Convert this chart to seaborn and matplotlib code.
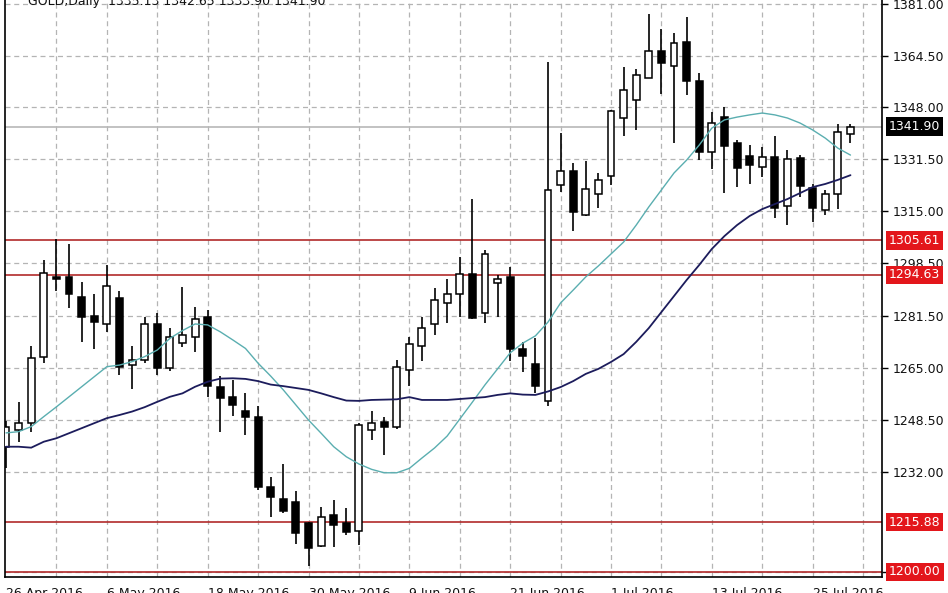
import numpy as np
import pandas as pd
import matplotlib
matplotlib.use("Agg")
import matplotlib.pyplot as plt
import seaborn as sns

# ---------------- data ----------------
opens = [1239.8, 1245.2, 1247.4, 1268.6, 1294.0, 1293.9, 1287.7, 1281.6, 1279.0, 1287.2,
         1265.9, 1267.5, 1279.0, 1264.9, 1272.8, 1274.9, 1281.1, 1259.0, 1255.8, 1251.4,
         1249.5, 1227.2, 1223.1, 1222.4, 1215.7, 1208.3, 1218.2, 1215.7, 1213.2, 1245.2,
         1247.9, 1246.3, 1264.3, 1272.0, 1279.0, 1285.6, 1288.5, 1294.8, 1282.4, 1292.1,
         1293.9, 1270.9, 1266.1, 1254.6, 1323.2, 1327.8, 1313.7, 1320.4, 1326.0, 1344.5,
         1350.5, 1357.5, 1365.8, 1361.1, 1368.7, 1356.5, 1333.9, 1345.0, 1336.5, 1332.5,
         1328.9, 1332.1, 1316.6, 1331.8, 1322.2, 1315.3, 1320.4, 1339.5]
highs = [1248.0, 1254.0, 1272.0, 1299.4, 1306.0, 1304.5, 1292.3, 1288.7, 1297.8, 1289.6,
         1272.0, 1281.1, 1282.4, 1277.6, 1290.7, 1284.3, 1283.4, 1262.4, 1261.1, 1256.9,
         1252.9, 1230.4, 1234.4, 1225.8, 1216.0, 1220.8, 1222.9, 1220.3, 1247.5, 1251.4,
         1249.5, 1267.5, 1274.9, 1281.1, 1290.4, 1293.2, 1300.2, 1318.8, 1302.5, 1294.6,
         1297.0, 1273.3, 1274.4, 1362.4, 1339.7, 1330.2, 1331.0, 1327.0, 1347.3, 1360.7,
         1360.2, 1377.7, 1372.9, 1371.6, 1376.9, 1359.1, 1346.5, 1348.2, 1337.6, 1336.0,
         1335.4, 1338.9, 1334.4, 1332.8, 1323.6, 1321.7, 1342.7, 1342.6]
lows = [1233.0, 1241.4, 1244.5, 1266.7, 1289.6, 1284.0, 1273.3, 1270.9, 1276.5, 1262.7,
        1258.3, 1266.5, 1262.7, 1264.1, 1271.8, 1270.2, 1255.8, 1244.7, 1249.7, 1243.6,
        1226.1, 1217.4, 1218.9, 1208.9, 1201.9, 1207.9, 1207.9, 1211.8, 1208.6, 1242.0,
        1237.3, 1245.4, 1259.2, 1267.2, 1275.5, 1279.4, 1281.3, 1280.5, 1279.4, 1281.1,
        1267.2, 1263.7, 1256.9, 1252.9, 1320.9, 1308.7, 1313.5, 1315.8, 1323.2, 1338.9,
        1340.8, 1357.3, 1352.2, 1336.7, 1351.9, 1331.2, 1328.3, 1320.6, 1322.5, 1323.6,
        1325.9, 1312.6, 1310.5, 1319.5, 1311.6, 1313.7, 1315.5, 1336.5]
closes = [1246.2, 1247.5, 1268.1, 1295.1, 1293.2, 1288.5, 1281.3, 1279.5, 1291.1, 1265.4,
          1267.5, 1279.0, 1264.9, 1274.9, 1275.5, 1280.6, 1259.3, 1255.3, 1253.2, 1249.3,
          1227.0, 1224.0, 1219.5, 1212.5, 1207.5, 1217.6, 1215.0, 1212.8, 1246.8, 1247.6,
          1246.3, 1265.4, 1272.6, 1277.6, 1286.6, 1288.5, 1294.8, 1280.8, 1301.2, 1293.2,
          1270.9, 1268.8, 1259.2, 1321.7, 1327.8, 1314.8, 1321.9, 1324.8, 1347.0, 1353.5,
          1358.3, 1366.1, 1362.0, 1368.5, 1356.4, 1333.9, 1343.1, 1335.7, 1328.6, 1329.6,
          1332.3, 1315.8, 1331.4, 1322.9, 1315.8, 1320.3, 1340.0, 1341.9]
ma_fast = [1244.3, 1244.7, 1246.3, 1249.5, 1252.6, 1255.8, 1259.0, 1262.2, 1265.4, 1265.9,
           1267.0, 1268.6, 1270.7, 1274.4, 1276.9, 1279.0, 1278.7, 1276.5, 1273.9, 1271.2,
           1266.5, 1262.4, 1258.0, 1253.2, 1248.4, 1244.2, 1239.9, 1236.7, 1234.4, 1232.7,
           1231.6, 1231.6, 1233.0, 1236.3, 1239.5, 1243.3, 1248.7, 1254.1, 1259.6, 1264.7,
           1269.8, 1272.9, 1275.2, 1279.6, 1285.7, 1289.8, 1294.0, 1297.5, 1301.3, 1305.1,
           1310.5, 1316.3, 1321.7, 1327.1, 1331.2, 1336.0, 1341.4, 1344.0, 1344.9, 1345.6,
           1346.2, 1345.6, 1344.6, 1343.0, 1340.8, 1338.2, 1335.0, 1332.8]
ma_slow = [1239.9, 1239.9, 1239.6, 1241.5, 1242.6, 1244.2, 1245.8, 1247.4, 1249.0, 1250.0,
           1251.1, 1252.5, 1254.2, 1255.8, 1256.9, 1259.0, 1260.6, 1261.6, 1261.7, 1261.5,
           1260.8, 1259.7, 1259.2, 1258.6, 1258.0, 1256.9, 1255.7, 1254.6, 1254.5, 1254.8,
           1254.9, 1255.0, 1255.7, 1254.8, 1254.8, 1254.8, 1255.1, 1255.4, 1255.7, 1256.4,
           1256.9, 1256.5, 1256.4, 1257.5, 1258.9, 1260.8, 1263.1, 1264.7, 1266.9, 1269.4,
           1273.3, 1277.7, 1282.8, 1287.9, 1293.0, 1297.8, 1302.9, 1307.0, 1310.5, 1313.4,
           1315.6, 1317.2, 1318.8, 1320.7, 1322.6, 1323.6, 1324.9, 1326.4]
date_labels = ["26 Apr 2016", "6 May 2016", "18 May 2016", "30 May 2016", "9 Jun 2016",
               "21 Jun 2016", "1 Jul 2016", "13 Jul 2016", "25 Jul 2016"]
price_ticks = [1200.0, 1232.0, 1248.5, 1265.0, 1281.5, 1298.5, 1315.0, 1331.5, 1348.0, 1364.5, 1381.0]
level_lines = [1305.61, 1294.63, 1215.88, 1200.00]
last_price = 1341.90
title_text = "GOLD,Daily  1335.13 1342.65 1333.90 1341.90"

df = pd.DataFrame({"open": opens, "high": highs, "low": lows, "close": closes,
                   "ma_fast": ma_fast, "ma_slow": ma_slow})
df["idx"] = np.arange(len(df))

# ---------------- plot ----------------
sns.set_style("white")
plt.rcParams["font.family"] = ["DejaVu Sans"]

W, H = 948, 593
fig = plt.figure(figsize=(W / 100, H / 100), dpi=100)
ax = fig.add_axes([5 / W, 16 / H, 877 / W, 577 / H])
ax.set_xlim(-0.08, 69.5)
ax.set_ylim(1198.4, 1382.2)

# grid
grid_kw = dict(color="#b4b4b4", lw=0.9, ls=(0, (4, 3)), zorder=0)
for yv in price_ticks:
    ax.axhline(yv, **grid_kw)
for xv in range(4, 70, 4):
    ax.axvline(xv, **grid_kw)

# level lines
for lv in level_lines:
    ax.axhline(lv, color="#b22a2a", lw=1.2, zorder=1)
ax.axhline(last_price, color="#b8b8b8", lw=1.2, zorder=1)

# candles
bull = df["close"] >= df["open"]
ax.vlines(df["idx"], df["low"], df["high"], color="black", lw=1.2, zorder=2)
body_bottom = np.minimum(df["open"], df["close"])
body_h = np.maximum(np.abs(df["close"] - df["open"]), 0.35)
ax.bar(df["idx"], body_h, bottom=body_bottom, width=0.55,
       color=np.where(bull, "white", "black"), edgecolor="black", lw=1.1, zorder=3)

# moving averages
sns.lineplot(data=df, x="idx", y="ma_fast", ax=ax, color="#5aaeb0", lw=1.0, zorder=4)
sns.lineplot(data=df, x="idx", y="ma_slow", ax=ax, color="#1c1c5c", lw=1.3, zorder=4)
ax.set_xlabel("")
ax.set_ylabel("")

# spines
for s in ["left", "bottom", "right"]:
    ax.spines[s].set_visible(True)
    ax.spines[s].set_color("black")
    ax.spines[s].set_linewidth(1.2)
ax.spines["top"].set_visible(False)

# y axis on right
ax.yaxis.tick_right()
ax.set_yticks(price_ticks)
ax.set_yticklabels([f"{v:.2f}" for v in price_ticks])
ax.tick_params(axis="y", direction="out", length=4, width=1, pad=4,
               labelsize=9, labelcolor="#111111", color="black")

# x axis
ax.set_xticks(np.arange(0, 8 * len(date_labels), 8))
ax.set_xticklabels(date_labels, ha="left")
ax.tick_params(axis="x", direction="out", length=5, width=1.2, pad=2,
               labelsize=9, labelcolor="#111111", color="black")

# price boxes
ytr = ax.get_yaxis_transform()
for lv in level_lines:
    ax.text(1.008, lv, f"{lv:.2f}", transform=ytr, ha="left", va="center",
            color="white", fontsize=9, zorder=10, clip_on=False,
            bbox=dict(boxstyle="square,pad=0.22", fc="#e3161b", ec="none"))
ax.text(1.008, last_price, f"{last_price:.2f}", transform=ytr, ha="left", va="center",
        color="white", fontsize=9, zorder=10, clip_on=False,
        bbox=dict(boxstyle="square,pad=0.22", fc="black", ec="none"))

# title (cut at top)
fig.text(28 / W, 1.0 - 1 / H, title_text, ha="left", va="center",
         fontsize=9, color="#111111")

fig.savefig("out.png", dpi=100, facecolor="white")
